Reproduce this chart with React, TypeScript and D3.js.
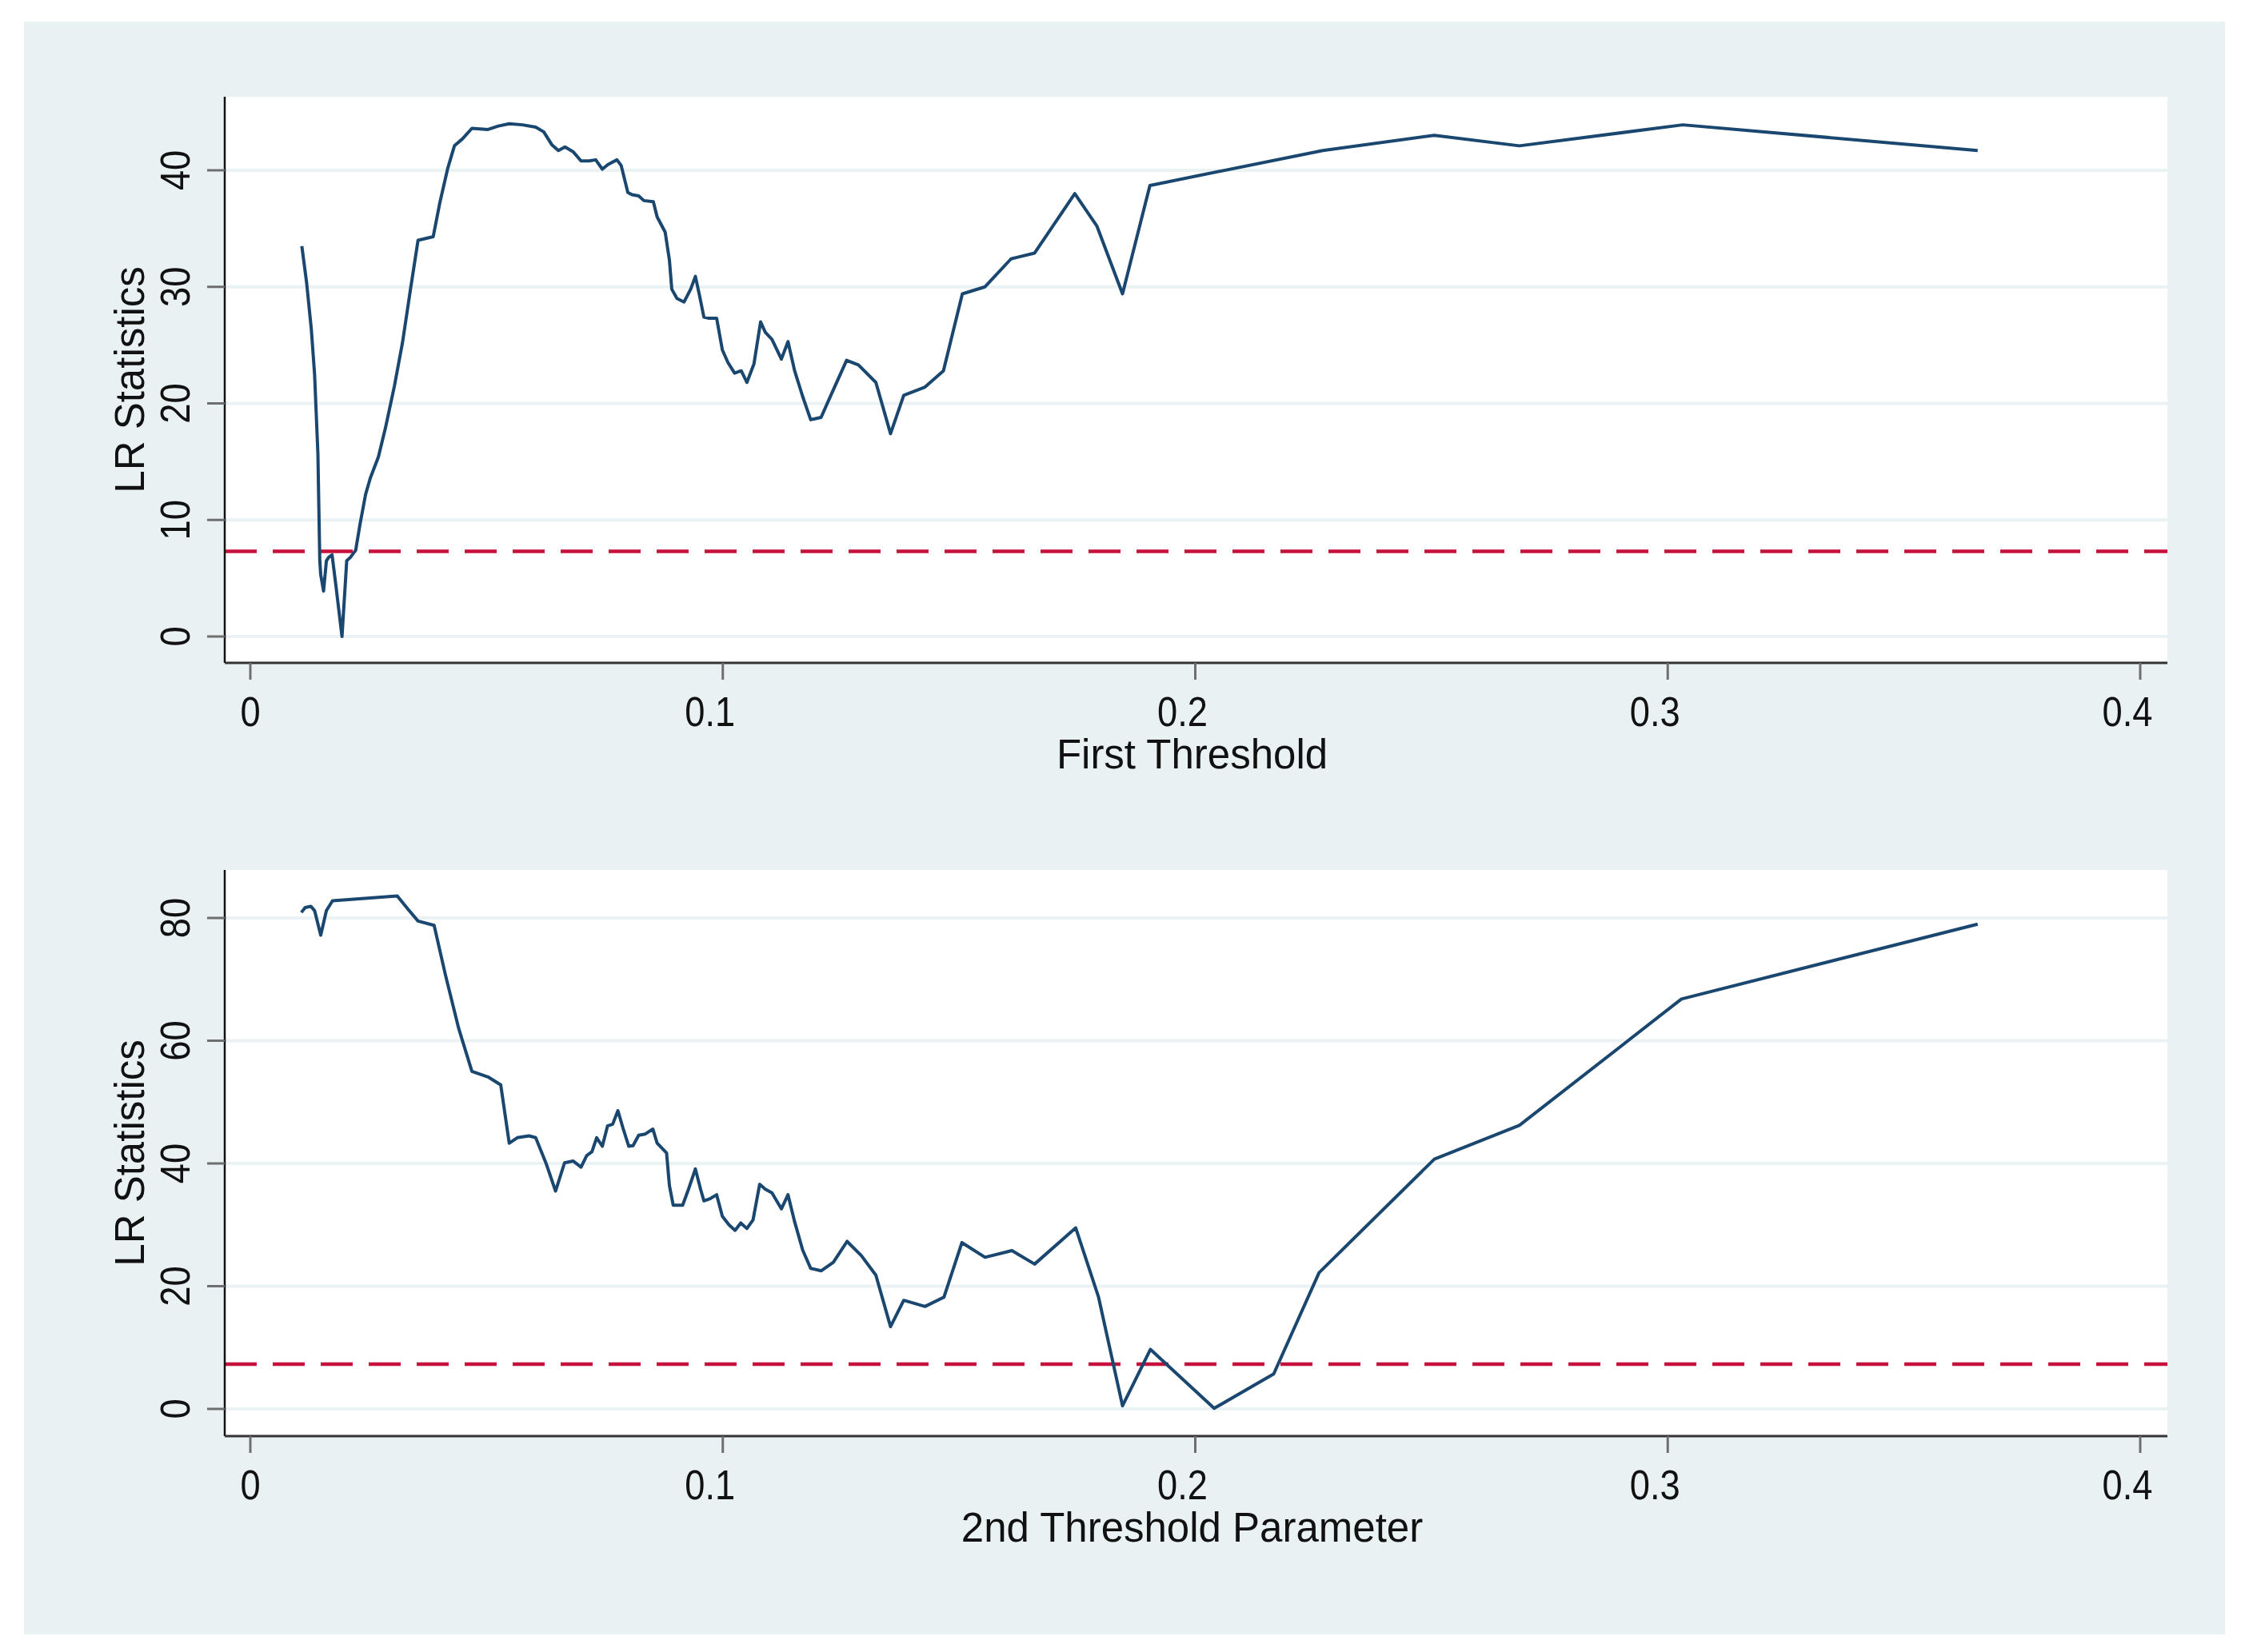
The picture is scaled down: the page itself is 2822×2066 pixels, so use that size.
import React from "react";
import * as d3 from "d3";

// ---- Data ----
const firstThreshold: number[] = [
  0.0109, 0.0119, 0.0129, 0.0136, 0.0143, 0.0147, 0.0149, 0.0155, 0.0161, 0.0166,
  0.0173, 0.0181, 0.0194, 0.0204, 0.0212, 0.0223, 0.0232, 0.0244, 0.0254, 0.0271,
  0.0286, 0.0305, 0.0322, 0.0339, 0.0355, 0.0387, 0.0401, 0.0418, 0.0432, 0.0449,
  0.0469, 0.0503, 0.0525, 0.0548, 0.0576, 0.0604, 0.0621, 0.0638, 0.0652, 0.0666,
  0.0683, 0.07, 0.0717, 0.0731, 0.0745, 0.0757, 0.0776, 0.0785, 0.0799, 0.0808,
  0.0822, 0.0833, 0.0853, 0.0861, 0.0878, 0.0887, 0.0892, 0.0903, 0.0918, 0.0932,
  0.0942, 0.0951, 0.096, 0.0971, 0.0987, 0.0999, 0.1011, 0.1025, 0.1039, 0.1051,
  0.1066, 0.108, 0.109, 0.1104, 0.1124, 0.1138, 0.1152, 0.1169, 0.1186, 0.1208,
  0.1231, 0.1262, 0.1287, 0.1324, 0.1355, 0.1383, 0.1428, 0.1467, 0.1507, 0.1555,
  0.161, 0.166, 0.1745, 0.1792, 0.1846, 0.1904, 0.227, 0.2506, 0.2686, 0.3032,
  0.3656,
];
const firstLR: number[] = [
  33.5, 30.4, 26.4, 22.5, 15.7, 6.5, 5.3, 3.9, 6.5, 6.8,
  7.0, 4.4, 0.0, 6.5, 6.8, 7.4, 9.6, 12.2, 13.6, 15.4,
  17.9, 21.5, 25.2, 29.8, 34.0, 34.3, 37.2, 40.2, 42.1, 42.7,
  43.6, 43.5, 43.8, 44.0, 43.9, 43.7, 43.3, 42.2, 41.7, 42.0,
  41.6, 40.8, 40.8, 40.9, 40.1, 40.5, 40.9, 40.4, 38.1, 37.9,
  37.8, 37.4, 37.3, 36.0, 34.7, 32.3, 29.8, 29.0, 28.7, 29.8,
  30.9, 29.2, 27.4, 27.3, 27.3, 24.6, 23.5, 22.6, 22.8, 21.8,
  23.4, 27.0, 26.1, 25.5, 23.8, 25.3, 22.8, 20.6, 18.6, 18.8,
  20.9, 23.7, 23.3, 21.8, 17.4, 20.7, 21.4, 22.8, 29.4, 30.0,
  32.4, 32.9, 38.0, 35.2, 29.4, 38.7, 41.7, 43.0, 42.1, 43.9,
  41.7,
];

const secondThreshold: number[] = [
  0.0108, 0.0116, 0.0128, 0.0136, 0.0149, 0.0161, 0.0174, 0.0311, 0.0334, 0.0355,
  0.0389, 0.0413, 0.0441, 0.0469, 0.0503, 0.053, 0.0548, 0.0565, 0.059, 0.0604,
  0.0627, 0.0646, 0.0665, 0.0683, 0.07, 0.0712, 0.0723, 0.0733, 0.0745, 0.0756,
  0.0767, 0.0778, 0.0789, 0.0801, 0.081, 0.0822, 0.0836, 0.0852, 0.0861, 0.0881,
  0.0887, 0.0895, 0.0915, 0.0926, 0.0942, 0.0953, 0.096, 0.0974, 0.0987, 0.0999,
  0.1013, 0.1026, 0.1038, 0.1051, 0.1064, 0.1078, 0.109, 0.1104, 0.1124, 0.1138,
  0.1152, 0.1169, 0.1186, 0.1208, 0.1234, 0.1263, 0.1293, 0.1324, 0.1355, 0.1383,
  0.1428, 0.1468, 0.1506, 0.1555, 0.1612, 0.166, 0.1747, 0.1795, 0.1846, 0.1905,
  0.204, 0.2166, 0.2262, 0.2506, 0.2686, 0.3029, 0.3656,
];
const secondLR: number[] = [
  80.9, 81.7, 81.9, 81.2, 77.2, 81.2, 82.8, 83.6, 81.4, 79.5,
  78.8, 70.7, 62.0, 55.0, 54.1, 52.8, 43.3, 44.2, 44.5, 44.2,
  39.8, 35.5, 40.1, 40.4, 39.4, 41.3, 41.9, 44.2, 42.8, 46.1,
  46.4, 48.6, 45.7, 42.8, 42.9, 44.6, 44.8, 45.6, 43.3, 41.7,
  36.4, 33.2, 33.2, 35.5, 39.1, 35.8, 33.9, 34.3, 34.9, 31.4,
  30.0, 29.1, 30.3, 29.4, 30.8, 36.6, 35.8, 35.2, 32.6, 34.9,
  30.5, 25.9, 22.9, 22.5, 23.9, 27.3, 25.0, 21.8, 13.4, 17.7,
  16.7, 18.2, 27.1, 24.7, 25.8, 23.6, 29.5, 18.3, 0.5, 9.7,
  0.1, 5.7, 22.2, 40.7, 46.2, 66.8, 79.0,
];

const xTicks: number[] = [0, 0.1, 0.2, 0.3, 0.4];
const xTickLabels: string[] = ["0", "0.1", "0.2", "0.3", "0.4"];
const yTicksTop: number[] = [0, 10, 20, 30, 40];
const yTicksBottom: number[] = [0, 20, 40, 60, 80];
const criticalValue = 7.3;
const xTitles: string[] = ["First Threshold", "2nd Threshold Parameter"];
const yTitle = "LR Statistics";

// ---- Layout / style ----
const W = 2822;
const H = 2066;
const FONT = "'Liberation Sans', Arial, Helvetica, sans-serif";
const BG = "#E9F1F3";
const GRID = "#EAF2F3";
const LINE = "#1A476F";
const RED = "#C8103C";

const plotLeft = 281;
const plotRight = 2710;

interface Panel {
  xs: number[];
  ys: number[];
  yTicks: number[];
  yDomain: [number, number];
  top: number;
  bottom: number;
  xTitle: string;
}

const panels: Panel[] = [
  { xs: firstThreshold, ys: firstLR, yTicks: yTicksTop, yDomain: [-2.264, 46.31], top: 121, bottom: 829, xTitle: xTitles[0] },
  { xs: secondThreshold, ys: secondLR, yTicks: yTicksBottom, yDomain: [-4.43, 87.82], top: 1088, bottom: 1796, xTitle: xTitles[1] },
];

const xScale = d3.scaleLinear().domain([-0.005417, 0.40576]).range([plotLeft, plotRight]);

function PanelView({ p }: { p: Panel }) {
  const y = d3.scaleLinear().domain(p.yDomain).range([p.bottom, p.top]);
  const pts: [number, number][] = p.xs.map((x, i) => [x, p.ys[i]]);
  const line = d3
    .line<[number, number]>()
    .x((d) => xScale(d[0]))
    .y((d) => y(d[1]));
  const cy = (p.top + p.bottom) / 2;
  const cx = (plotLeft + plotRight) / 2;
  return (
    <g>
      <rect x={plotLeft} y={p.top} width={plotRight - plotLeft} height={p.bottom - p.top} fill="#ffffff" />
      {p.yTicks.map((t) => (
        <line key={"g" + t} x1={plotLeft} x2={plotRight} y1={y(t)} y2={y(t)} stroke={GRID} strokeWidth={4} />
      ))}
      <line
        x1={plotLeft}
        x2={plotRight}
        y1={y(criticalValue)}
        y2={y(criticalValue)}
        stroke={RED}
        strokeWidth={4.5}
        strokeDasharray="40 20"
      />
      <path d={line(pts) || ""} fill="none" stroke={LINE} strokeWidth={4} strokeLinejoin="round" />
      {/* y axis */}
      <line x1={plotLeft} x2={plotLeft} y1={p.top} y2={p.bottom} stroke="#111" strokeWidth={2.5} />
      {p.yTicks.map((t) => (
        <g key={"y" + t}>
          <line x1={plotLeft - 22} x2={plotLeft} y1={y(t)} y2={y(t)} stroke="#6E6E6E" strokeWidth={3} />
          <text
            transform={`translate(237,${y(t)}) rotate(-90) scale(0.87,1)`}
            textAnchor="middle"
            fontFamily={FONT}
            fontSize={52}
            fill="#111"
          >
            {String(t)}
          </text>
        </g>
      ))}
      <text
        transform={`translate(180,${cy}) rotate(-90)`}
        textAnchor="middle"
        fontFamily={FONT}
        fontSize={51}
        fill="#111"
      >
        {yTitle}
      </text>
      {/* x axis */}
      <line x1={plotLeft} x2={plotRight} y1={p.bottom} y2={p.bottom} stroke="#333" strokeWidth={3} />
      {xTicks.map((t, i) => (
        <g key={"x" + t}>
          <line x1={xScale(t)} x2={xScale(t)} y1={p.bottom} y2={p.bottom + 21} stroke="#6E6E6E" strokeWidth={3} />
          <text
            transform={`translate(${xScale(t) + (t === 0 ? 0 : -16)},${p.bottom + 79}) scale(0.87,1)`}
            textAnchor="middle"
            fontFamily={FONT}
            fontSize={52}
            fill="#111"
          >
            {xTickLabels[i]}
          </text>
        </g>
      ))}
      <text x={cx - 5} y={p.bottom + 132} textAnchor="middle" fontFamily={FONT} fontSize={51} fill="#111">
        {p.xTitle}
      </text>
    </g>
  );
}

export default function App() {
  return (
    <svg
      width={W}
      height={H}
      viewBox={`0 0 ${W} ${H}`}
      style={{ position: "absolute", left: 0, top: 0, display: "block", background: "#ffffff" }}
    >
      <rect x={0} y={0} width={W} height={H} fill="#ffffff" />
      <rect x={30} y={27} width={2752} height={2017} fill={BG} />
      {panels.map((p, i) => (
        <PanelView key={i} p={p} />
      ))}
    </svg>
  );
}
